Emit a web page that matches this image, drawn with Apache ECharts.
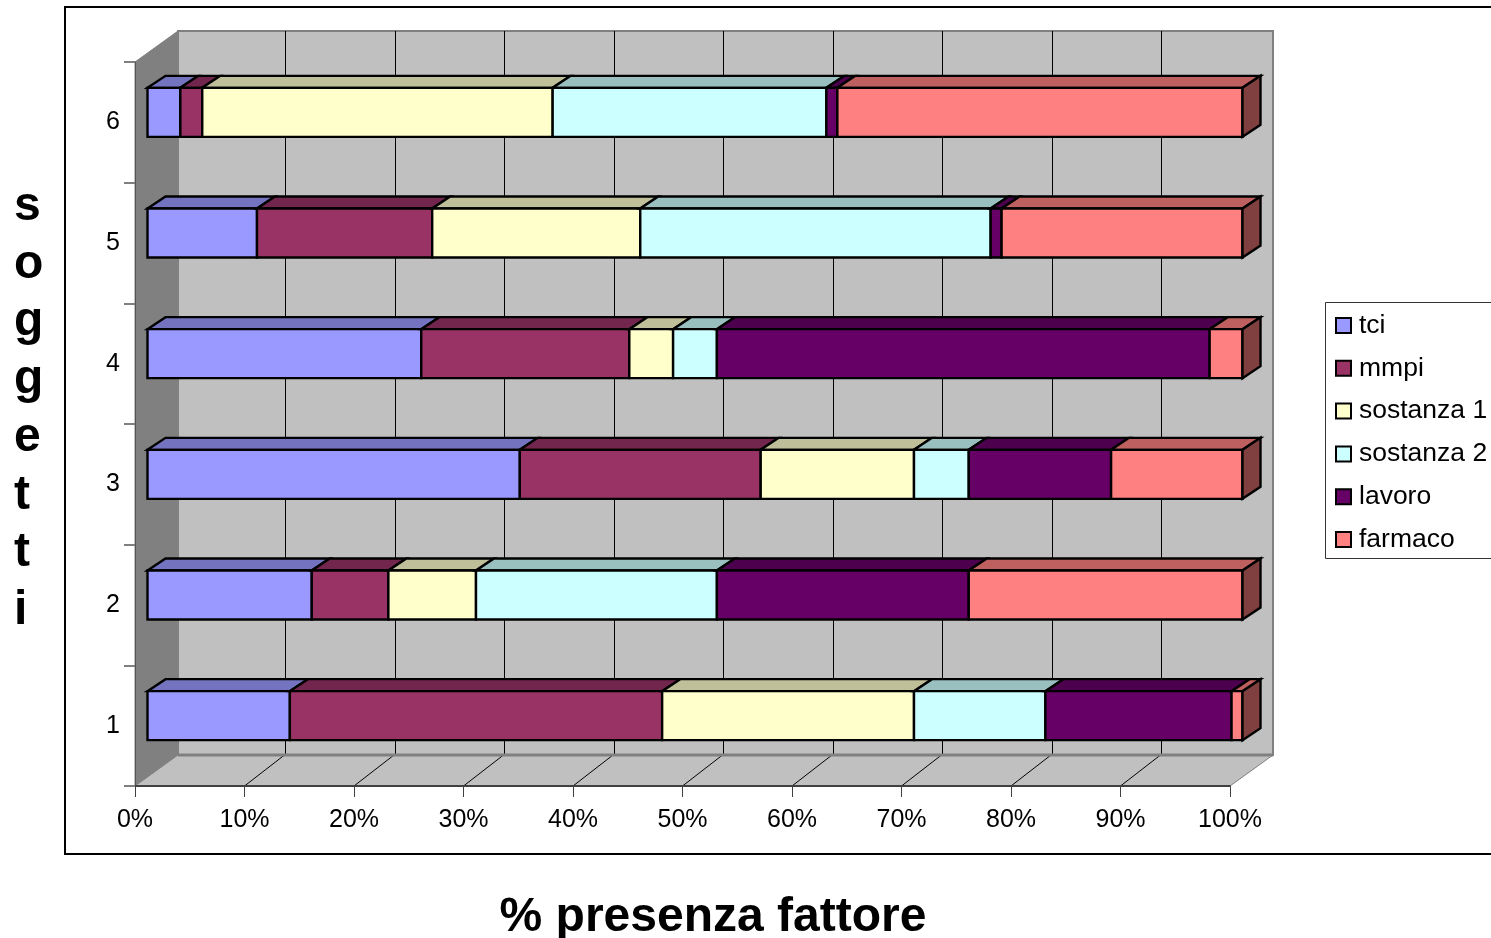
<!DOCTYPE html>
<html>
<head>
<meta charset="utf-8">
<style>html,body{margin:0;padding:0;background:#fff}#c{width:1491px;height:938px}</style>
<script src="https://cdn.jsdelivr.net/npm/echarts@6/dist/echarts.min.js"></script>
</head>
<body>
<div id="c"></div>
<script>
const categories = ['1','2','3','4','5','6'];
const xTicks = [10,20,30,40,50,60,70,80,90];
const tci      = [13,15,34,25,10,3];
const mmpi     = [34,7,22,19,16,2];
const sost1    = [23,8,14,4,19,32];
const sost2    = [12,22,5,4,32,25];
const lavoro   = [17,23,13,45,1,1];
const farmaco  = [1,25,12,3,22,37];
const names = ['tci','mmpi','sostanza 1','sostanza 2','lavoro','farmaco'];
const colors = ['#9999ff','#993366','#ffffcc','#ccffff','#660066','#ff8080'];
const topColors = ['#7373bf','#73264d','#bfbf99','#99bfbf','#4d004d','#bf6060'];
const sideColors = ['#4d4d80','#4d1a33','#808066','#668080','#330033','#804040'];
const FONT = '"Liberation Sans", Arial, sans-serif';
const wallDX = 43, wallDY = 31, gridDX = 41, barDX = 12.5, barDY = 10, depthX = 18, depthY = 12, barRatio = 0.406;

const seriesValues = [tci,mmpi,sost1,sost2,lavoro,farmaco];
const cum = categories.map(() => 0);

function poly(points, fill, stroke, lw){
  return {type:'polygon', shape:{points}, style:{fill, stroke, lineWidth:lw, lineJoin:'miter'}, silent:true};
}
const wallSeries = {
  type:'custom', name:'walls', silent:true, z:1,
  coordinateSystem:'cartesian2d', clip:false,
  data:[[0,0]], encode:{x:0,y:1},
  renderItem(params, api){
    const cs = params.coordSys;
    const L=cs.x, R=cs.x+cs.width, T=cs.y, B=cs.y+cs.height;
    const children = [
      poly([[L+wallDX,T-wallDY],[R+wallDX,T-wallDY],[R+wallDX,B-wallDY],[L+wallDX,B-wallDY]],'#c0c0c0','#808080',2),
      poly([[L,T],[L+wallDX,T-wallDY],[L+wallDX,B-wallDY],[L,B]],'#808080','#808080',1),
      poly([[L,B],[R,B],[R+wallDX,B-wallDY],[L+wallDX,B-wallDY]],'#c0c0c0','#808080',1)
    ];
    xTicks.forEach(t=>{
      const x = api.coord([t,0])[0];
      const gx = Math.floor(x+gridDX)+0.5;
      children.push({type:'line',shape:{x1:gx,y1:T-wallDY,x2:gx,y2:B-wallDY},style:{stroke:'#000',lineWidth:1},silent:true});
      children.push({type:'line',shape:{x1:x,y1:B,x2:x+gridDX-1,y2:B-wallDY},style:{stroke:'#000',lineWidth:1},silent:true});
    });
    children.push({type:'line',shape:{x1:L+wallDX,y1:B-wallDY,x2:R+wallDX,y2:B-wallDY},style:{stroke:'#808080',lineWidth:3},silent:true});
    return {type:'group',children};
  }
};

const barSeries = names.map((name,si)=>{
  const data = seriesValues[si].map((v,ci)=>{
    const row = [cum[ci], cum[ci]+v, ci];
    cum[ci] += v;
    return row;
  });
  return {
    type:'custom', name, z:2+si,
    coordinateSystem:'cartesian2d', clip:false,
    itemStyle:{color:colors[si],borderColor:'#000',borderWidth:2},
    data, encode:{x:[0,1],y:2},
    renderItem(params, api){
      const a = api.coord([api.value(0),api.value(2)]);
      const b = api.coord([api.value(1),api.value(2)]);
      const band = api.size([0,1])[1];
      const h = band*barRatio;
      const x0=a[0]+barDX, x1=b[0]+barDX, top=a[1]-barDY-h/2, bot=a[1]-barDY+h/2;
      const children = [
        poly([[x0,top],[x0+depthX,top-depthY],[x1+depthX,top-depthY],[x1,top]],topColors[si],'#000',2.4),
        poly([[x0,top],[x1,top],[x1,bot],[x0,bot]],colors[si],'#000',2.4)
      ];
      if (si===names.length-1){
        children.push(poly([[x1,top],[x1+depthX,top-depthY],[x1+depthX,bot-depthY],[x1,bot]],sideColors[si],'#000',2.4));
      }
      return {type:'group',children};
    }
  };
});

const chart = echarts.init(document.getElementById('c'),null,{renderer:'canvas'});
chart.setOption({
  animation:false,
  backgroundColor:'#fff',
  textStyle:{fontFamily:FONT,color:'#000'},
  grid:{left:135,right:261,top:62,bottom:152,containLabel:false},
  tooltip:{show:false},
  title:[
    {text:'% presenza fattore',left:708,top:885,textAlign:'center',textStyle:{fontFamily:FONT,fontSize:48,fontWeight:'bold',color:'#000',lineHeight:56}},
    {text:'s\no\ng\ng\ne\nt\nt\ni',left:9,top:173,textStyle:{fontFamily:FONT,fontSize:48,fontWeight:'bold',color:'#000',lineHeight:57.7}}
  ],
  xAxis:{type:'value',min:0,max:100,interval:10,z:3,
    axisLine:{show:true,onZero:false,lineStyle:{color:'#404040',width:2}},
    axisTick:{show:true,length:11,lineStyle:{color:'#404040',width:1}},
    axisLabel:{fontFamily:FONT,fontSize:25,color:'#000',margin:22,formatter:'{value}%',hideOverlap:false,showMinLabel:true,showMaxLabel:true},
    splitLine:{show:false}},
  yAxis:{type:'category',data:categories,z:3,
    axisLine:{show:true,lineStyle:{color:'#555',width:1}},
    axisTick:{show:true,length:11,alignWithLabel:false,lineStyle:{color:'#808080',width:2}},
    axisLabel:{fontFamily:FONT,fontSize:25,color:'#000',margin:15,padding:[0,0,7,0]},
    splitLine:{show:false}},
  legend:{orient:'vertical',left:1330,top:307,data:names,icon:'rect',itemWidth:15,itemHeight:15,itemGap:15.8,selectedMode:false,
    itemStyle:{borderColor:'#000',borderWidth:2},
    textStyle:{fontFamily:FONT,fontSize:26.5,color:'#000',padding:[0,0,2,3]}},
  graphic:[
    {type:'rect',z:-1,silent:true,shape:{x:65,y:7,width:1500,height:847},style:{fill:'#fff',stroke:'#000',lineWidth:2}},
    {type:'rect',z:-1,silent:true,shape:{x:1325.5,y:302.5,width:200,height:256},style:{fill:'#fff',stroke:'#333',lineWidth:1}}
  ],
  series:[wallSeries].concat(barSeries)
});
</script>
</body>
</html>
